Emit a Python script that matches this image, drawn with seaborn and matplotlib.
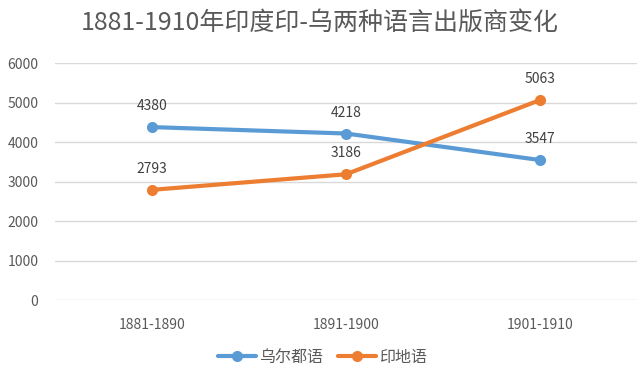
import matplotlib
matplotlib.use("Agg")
import matplotlib.pyplot as plt
import seaborn as sns
import pandas as pd

periods = ["1881-1890", "1891-1900", "1901-1910"]
urdu = [4380, 4218, 3547]
hindi = [2793, 3186, 5063]
series_names = ["乌尔都语", "印地语"]
colors = ["#5b9bd5", "#ed7d31"]

sns.set_theme(style="white")
plt.rcParams["font.family"] = ["Noto Sans CJK SC", "DejaVu Sans"]

df = pd.DataFrame({
    "period": periods * 2,
    "value": urdu + hindi,
    "lang": [series_names[0]] * 3 + [series_names[1]] * 3,
})

fig = plt.figure(figsize=(6.4, 3.8), dpi=100)
ax = fig.add_axes([0.086, 0.21, 0.909, 0.624])

sns.lineplot(data=df, x="period", y="value", hue="lang", palette=colors,
             marker="o", markersize=8, markeredgewidth=0, linewidth=3,
             sort=False, ax=ax)

for name, vals, c in zip(series_names, [urdu, hindi], colors):
    for i, v in enumerate(vals):
        ax.annotate(str(v), (i, v), xytext=(0, 15), textcoords="offset points",
                    ha="center", va="center", fontsize=10, color="#404040")

gray = "#595959"
ax.set_xlim(-0.5, 2.5)
ax.set_ylim(0, 6000)
ax.set_yticks(range(0, 6001, 1000))
ax.grid(axis="y", color="#d9d9d9", linewidth=1)
ax.set_axisbelow(True)
for s in ax.spines.values():
    s.set_visible(False)
ax.tick_params(axis="both", length=0, labelsize=10, colors=gray, pad=12)
ax.tick_params(axis="x", pad=13)
ax.set_xlabel("")
ax.set_ylabel("")

handles, labels = ax.get_legend_handles_labels()
ax.legend(handles, labels, loc="center", bbox_to_anchor=(0.46, -0.24), ncol=2,
          frameon=False, fontsize=11.5, labelcolor=gray, handlelength=2.4,
          columnspacing=0.9, handletextpad=0.2)

fig.suptitle("1881-1910年印度印-乌两种语言出版商变化", x=0.5, y=0.975,
             fontsize=18, color=gray)

fig.savefig("out.png", dpi=100, facecolor="white")
